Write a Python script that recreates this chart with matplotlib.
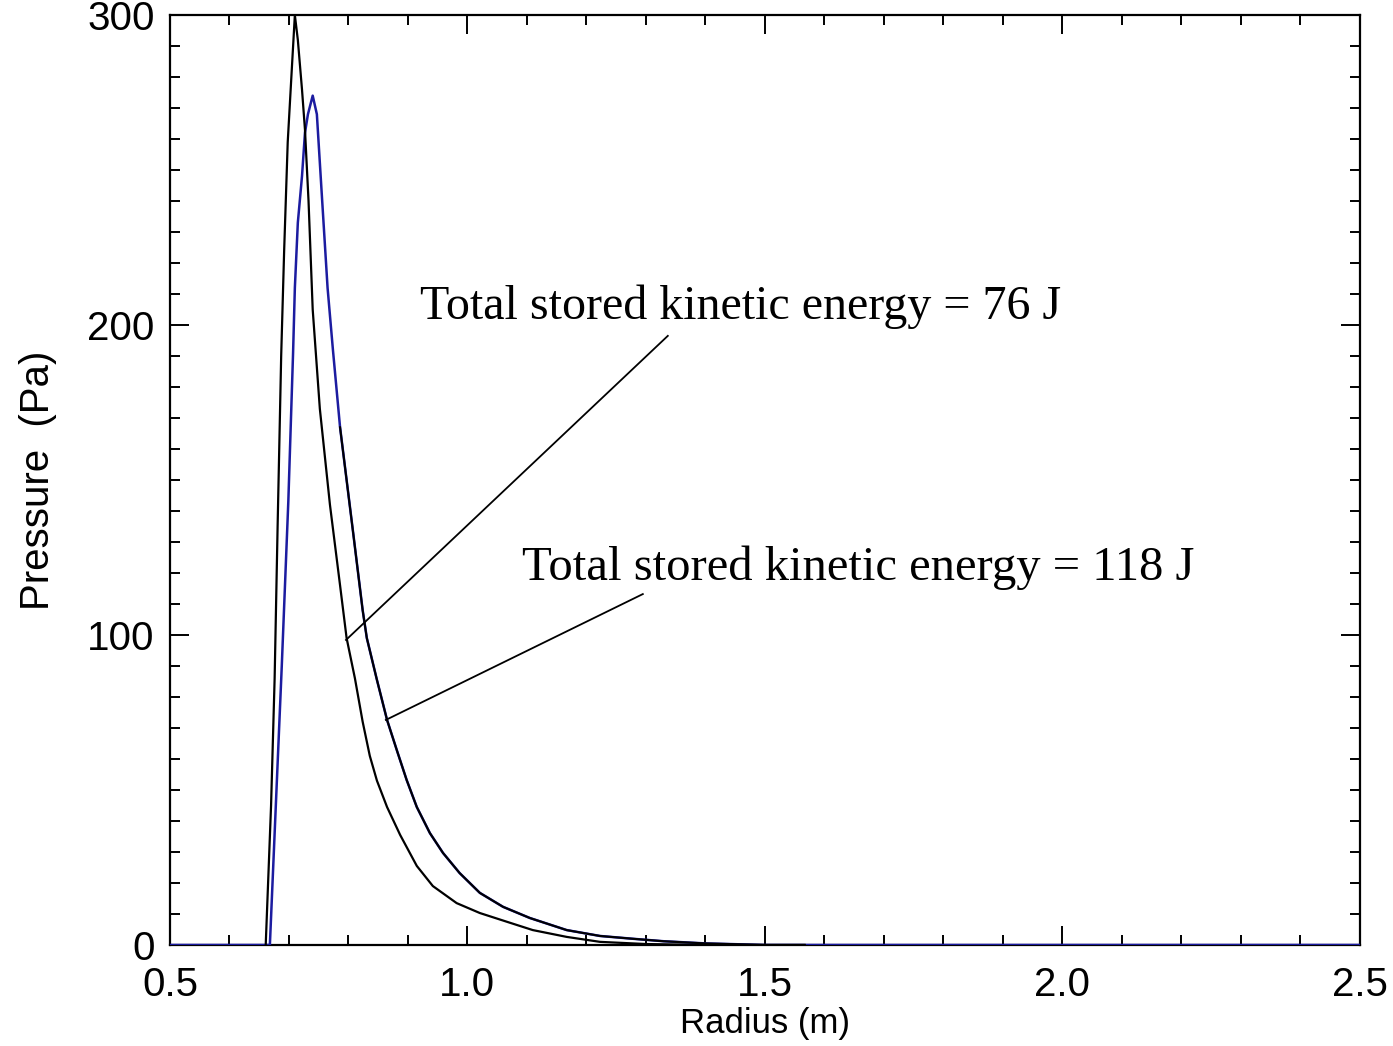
import matplotlib
matplotlib.use("Agg")
import matplotlib.pyplot as plt
from matplotlib.ticker import MultipleLocator, FormatStrFormatter

# Pressure profiles vs radius
radius_inner = [0.661, 0.670, 0.676, 0.681, 0.687, 0.692, 0.698, 0.705, 0.710, 0.715,
                0.722, 0.727, 0.733, 0.740, 0.752, 0.769, 0.786, 0.797, 0.811, 0.824,
                0.836, 0.848, 0.865, 0.887, 0.915, 0.942, 0.982, 1.021, 1.071, 1.110,
                1.167, 1.223, 1.300, 1.400, 1.567]
pressure_inner = [0, 45, 86, 135, 190, 224, 259, 283, 300, 292,
                  276, 263, 240, 205, 173, 142, 116, 99, 86, 72,
                  61, 53, 44.5, 35.5, 25.5, 19, 13.5, 10.3, 7.2, 4.8,
                  2.6, 1.0, 0.3, 0, 0]

radius_outer = [0.50, 0.668, 0.678, 0.688, 0.699, 0.707, 0.710, 0.715, 0.722, 0.727,
                0.732, 0.740, 0.747, 0.755, 0.765, 0.774, 0.786, 0.797, 0.808, 0.824,
                0.831, 0.848, 0.865, 0.882, 0.898, 0.915, 0.937, 0.959, 0.987, 1.021,
                1.060, 1.105, 1.167, 1.223, 1.278, 1.330, 1.400, 1.500, 1.567, 2.50]
pressure_outer = [0, 0, 45, 90, 143, 191, 212, 233, 248, 262,
                  268, 274, 268, 243, 212, 192, 167, 150, 133, 108,
                  99, 85.5, 72.6, 62.5, 53.2, 44.5, 36.1, 29.7, 23.2, 16.8,
                  12.3, 8.7, 4.8, 2.9, 2.0, 1.2, 0.5, 0, 0, 0]

label_inner = "Total stored kinetic energy = 76 J"
label_outer = "Total stored kinetic energy = 118 J"

fig = plt.figure(figsize=(13.93, 10.46), dpi=100)
ax = fig.add_axes([0.122, 0.0966, 0.854, 0.889])

sans = ["Liberation Sans", "DejaVu Sans"]
serif = ["Liberation Serif", "DejaVu Serif"]

ax.plot(radius_outer, pressure_outer, color="#1c1ca0", lw=1.8, zorder=3)
# black trace of the outer profile over its lower part
r_ob = [r for r in radius_outer if 0.786 <= r <= 1.567]
p_ob = [p for r, p in zip(radius_outer, pressure_outer) if 0.786 <= r <= 1.567]
ax.plot(r_ob, p_ob, color="black", lw=1.5, zorder=4)
ax.plot(radius_inner, pressure_inner, color="black", lw=1.6, zorder=4)

ax.set_xlim(0.5, 2.5)
ax.set_ylim(0, 300)
ax.xaxis.set_major_locator(MultipleLocator(0.5))
ax.xaxis.set_minor_locator(MultipleLocator(0.1))
ax.yaxis.set_major_locator(MultipleLocator(100))
ax.yaxis.set_minor_locator(MultipleLocator(10))
ax.xaxis.set_major_formatter(FormatStrFormatter("%.1f"))
ax.yaxis.set_major_formatter(FormatStrFormatter("%d"))

ax.tick_params(which="both", direction="in", top=True, right=True, width=1.4,
               labelsize=29, colors="black")
ax.tick_params(which="major", length=14)
ax.tick_params(which="minor", length=7)
ax.tick_params(axis="x", which="major", pad=15)
ax.tick_params(axis="y", which="major", pad=11)
for lab in ax.get_xticklabels() + ax.get_yticklabels():
    lab.set_family(sans)
for s in ax.spines.values():
    s.set_linewidth(1.6)

ax.set_xlabel("Radius (m)", fontsize=25, family=sans, labelpad=2)
ax.set_ylabel("Pressure  (Pa)", fontsize=29, family=sans, labelpad=22)

# callout leader lines and labels
ax.plot([0.796, 1.337], [98.4, 196.5], color="black", lw=1.3, zorder=5)
ax.plot([0.863, 1.295], [72.6, 113.2], color="black", lw=1.3, zorder=5)
ax.text(0.920, 202, label_inner, fontsize=34.6, family=serif,
        ha="left", va="baseline")
ax.text(1.092, 117.7, label_outer, fontsize=35, family=serif,
        ha="left", va="baseline")

fig.savefig("out.png", dpi=100, facecolor="white")
